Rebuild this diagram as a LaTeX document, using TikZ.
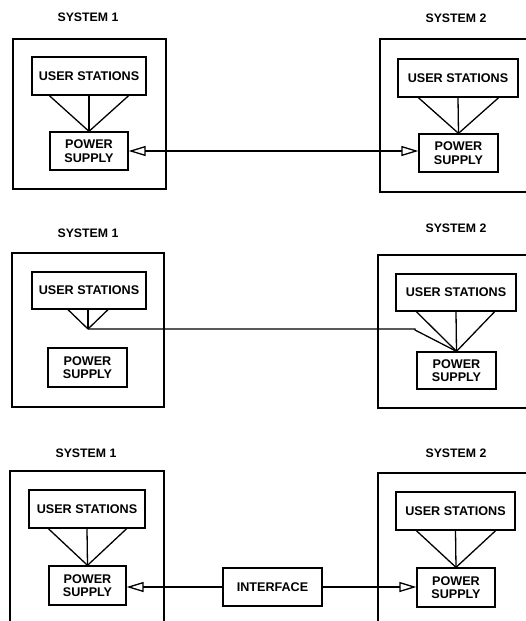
\documentclass[tikz,border=0pt]{standalone}
\usepackage{fontspec}
\setmainfont{Liberation Sans}
\usetikzlibrary{arrows.meta}
\begin{document}
\begin{tikzpicture}[x=1pt,y=-1pt,
  lw/.style={line width=1.3pt},
  blk/.style={draw,lw,inner sep=0pt,align=center,font=\fontsize{12.6}{13.5}\selectfont\bfseries},
  sysbox/.style={draw,lw,inner sep=0pt},
  title/.style={inner sep=0pt,font=\fontsize{12.3}{13}\selectfont\bfseries},
  wire/.style={lw},
  feed/.style={lw,-{Triangle[open,length=17pt,width=10pt,line width=1.3pt]}},
  feedboth/.style={lw,{Triangle[open,length=17pt,width=10pt,line width=1.3pt]}-{Triangle[open,length=17pt,width=10pt,line width=1.3pt]}}
]
\useasboundingbox (0,0) rectangle (526,621);
\fill[white] (0,0) rectangle (526,621);

% ---------- Panel 1 ----------
\node[title] (t1a) at (88,17) {SYSTEM 1};
\node[sysbox,minimum width=153pt,minimum height=150pt] (s1a) at (89.5,114) {};
\node[blk,minimum width=114pt,minimum height=38pt] (us1a) at (89,76) {USER STATIONS};
\node[blk,minimum width=78pt,minimum height=38pt] (ps1a) at (89,151) {POWER\\SUPPLY};
\draw[wire] (us1a.south -| ps1a.north west) -- (ps1a.north);
\draw[wire] (us1a.south) -- (ps1a.north);
\draw[wire] (us1a.south -| ps1a.north east) -- (ps1a.north);

\node[title] (t2a) at (456,18) {SYSTEM 2};
\draw[lw] (540,39) -- (380,39) -- (380,192) -- (540,192);
\node[blk,minimum width=120pt,minimum height=38pt] (us2a) at (458,78) {USER STATIONS};
\node[blk,minimum width=79pt,minimum height=38pt] (ps2a) at (458.5,153) {POWER\\SUPPLY};
\draw[wire] (us2a.south -| ps2a.north west) -- (ps2a.north);
\draw[wire] (us2a.south) -- (ps2a.north);
\draw[wire] (us2a.south -| ps2a.north east) -- (ps2a.north);

\draw[feedboth] (ps1a.east) -- (ps1a.east -| ps2a.west);

% ---------- Panel 2 ----------
\node[title] (t1b) at (88,233) {SYSTEM 1};
\node[sysbox,minimum width=152pt,minimum height=154pt] (s1b) at (88,330) {};
\node[blk,minimum width=114pt,minimum height=37pt] (us1b) at (89,290.5) {USER STATIONS};
\node[blk,minimum width=79pt,minimum height=39pt] (ps1b) at (87.5,367.5) {POWER\\SUPPLY};
\coordinate (j1b) at (88,329);
\draw[wire] ([xshift=-21pt]us1b.south) -- (j1b);
\draw[wire] (us1b.south -| j1b) -- (j1b);
\draw[wire] ([xshift=19pt]us1b.south) -- (j1b);

\node[title] (t2b) at (456,228) {SYSTEM 2};
\draw[lw] (540,255) -- (378,255) -- (378,408) -- (540,408);
\node[blk,minimum width=120pt,minimum height=37pt] (us2b) at (456,292.5) {USER STATIONS};
\node[blk,minimum width=79pt,minimum height=37pt] (ps2b) at (456.5,370.5) {POWER\\SUPPLY};
\draw[wire] (us2b.south -| ps2b.north west) -- (ps2b.north);
\draw[wire] (us2b.south) -- (ps2b.north);
\draw[wire] ([xshift=-2pt]us2b.south -| ps2b.north east) -- (ps2b.north);
\coordinate (bend) at (415,330);
\draw[wire] (j1b) -- (j1b -| bend) -- (bend) -- (ps2b.north);

% ---------- Panel 3 ----------
\node[title] (t1c) at (86,453) {SYSTEM 1};
\draw[lw] (10,630) -- (10,471) -- (164,471) -- (164,630);
\node[blk,minimum width=116pt,minimum height=38pt] (us1c) at (87,509) {USER STATIONS};
\node[blk,minimum width=77pt,minimum height=39pt] (ps1c) at (87.5,585.5) {POWER\\SUPPLY};
\draw[wire] (us1c.south -| ps1c.north west) -- (ps1c.north);
\draw[wire] (us1c.south) -- (ps1c.north);
\draw[wire] (us1c.south -| ps1c.north east) -- (ps1c.north);

\node[blk,minimum width=99pt,minimum height=38pt] (ifc) at (272.5,587) {INTERFACE};

\node[title] (t2c) at (456,453) {SYSTEM 2};
\draw[lw] (378,630) -- (378,473) -- (540,473);
\node[blk,minimum width=119pt,minimum height=38pt] (us2c) at (455.5,511) {USER STATIONS};
\node[blk,minimum width=78pt,minimum height=39pt] (ps2c) at (456,587.5) {POWER\\SUPPLY};
\draw[wire] (us2c.south -| ps2c.north west) -- (ps2c.north);
\draw[wire] (us2c.south) -- (ps2c.north);
\draw[wire] (us2c.south -| ps2c.north east) -- (ps2c.north);

\draw[feed] (ifc.west) -- (ifc.west -| ps1c.east);
\draw[feed] (ifc.east) -- (ifc.east -| ps2c.west);
\end{tikzpicture}
\end{document}
